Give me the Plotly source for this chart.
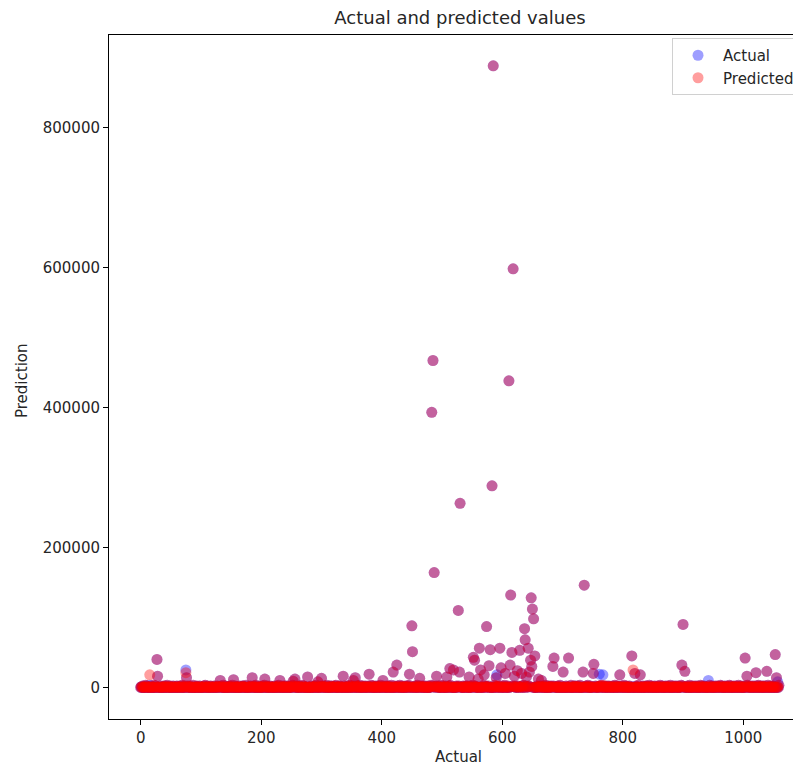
import plotly.graph_objects as go

# ---------------- data ----------------
title_text = "Actual and predicted values"
x_label = "Actual"
y_label = "Prediction"
x_tick_values = [0, 200, 400, 600, 800, 1000]
y_tick_values = [0, 200000, 400000, 600000, 800000]

# base level of every test sample, in thousands (one digit per sample index)
baseline_groups = """
0102001030 2010010200 0130020010 1002001020 0201300102 0010201001
2001020103 0100201020 1020010300 0102010020 1001020301 0200102010
0120010201 1002010300 0201001020 1030100201 0010200102 2010030100
1020100201 0301002010 0102030010 2001020100 1020010203 0100201020
0201020010 1030200102 0010201030 2010010200 0102001020 1300102001
0201020103 0010200201 1020300102 0201001020 1002010302 0010201002
2010300102 0102010020 1003020100 2010201030 0102001020 1020103001
0201002010 3010200102 0102030100 2001020103 0100201020 1020010200
0130201001 2010200103 0201002010 1020300102 0010201020 3010020102
1020010201 0301020010 2010201003 0102010200 1002010301 0201020010
2010300102 0102010201 0201002010 0102030102 0010201020 1030100201
0102001020 1030010201 0201020100 1020103001 0201002010 2010300102
0201020103 0010200102 1030102001 0201020100 1020301002 0102010201
1002010302 0102001020 1030102010 0201020100 1020103002 0102001020
2010301020 0102010020 1030102001 0201020103 0010201020 1020010302
0102010201 0300102010 2010200103 0201020100 1020301020 0102010201
1030201002 0102010302 0010201020 1030102010 0201020301 0201020102
0102030102 0102010201 0301020102 0102010203
"""

# samples that stand out from the band: index, actual value, predicted value
spike_index = [15, 27, 28, 75, 76, 132, 154, 185, 206, 231, 253, 256, 277, 294, 300,
               336, 353, 356, 379, 402, 419, 425, 446, 450, 451, 463, 483, 485, 487,
               491, 508, 513, 519, 527, 529, 530, 545, 552, 554, 560, 562, 564, 570,
               574, 578, 580, 583, 585, 590, 591, 596, 598, 605, 611, 613, 614, 616,
               618, 620, 625, 629, 632, 637, 638, 640, 643, 645, 647, 648, 649, 650,
               652, 654, 660, 665, 684, 686, 701, 710, 734, 736, 751, 752, 761, 767,
               795, 815, 817, 820, 829, 898, 900, 903, 942, 1003, 1006, 1021, 1039,
               1053, 1055, 1057]
spike_actual = [3000, 40000, 16000, 25000, 14000, 10000, 11000, 14000, 12000, 10000, 9000,
                12000, 15000, 8000, 13000, 16000, 10000, 14000, 19000, 10000, 22000, 32000,
                19000, 88000, 51000, 13000, 393000, 467000, 164000, 16000, 15000, 27000,
                25000, 110000, 22000, 263000, 15000, 43000, 39000, 12000, 56000, 25000,
                18000, 87000, 31000, 54000, 288000, 888000, 14000, 18000, 56000, 28000,
                20000, 438000, 32000, 132000, 50000, 598000, 16000, 24000, 53000, 20000,
                84000, 68000, 15000, 56000, 22000, 39000, 128000, 30000, 112000, 98000,
                45000, 12000, 10000, 30000, 42000, 22000, 42000, 22000, 146000, 20000,
                33000, 19000, 18000, 18000, 45000, 1000, 20000, 18000, 32000, 90000, 23000,
                10000, 42000, 16000, 21000, 23000, 47000, 14000, 8000]
spike_predicted = [18000, 40000, 16000, 21000, 14000, 10000, 11000, 14000, 12000, 10000, 9000,
                   12000, 15000, 8000, 13000, 16000, 10000, 14000, 19000, 10000, 22000, 32000,
                   19000, 88000, 51000, 13000, 393000, 467000, 164000, 16000, 15000, 27000,
                   25000, 110000, 22000, 263000, 15000, 43000, 39000, 12000, 56000, 25000,
                   18000, 87000, 31000, 54000, 288000, 888000, 14000, 2000, 56000, 28000,
                   20000, 438000, 32000, 132000, 50000, 598000, 16000, 24000, 53000, 20000,
                   84000, 68000, 15000, 56000, 22000, 39000, 128000, 30000, 112000, 98000,
                   45000, 12000, 10000, 30000, 42000, 22000, 42000, 22000, 146000, 20000,
                   33000, 2000, 3000, 18000, 45000, 25000, 20000, 18000, 32000, 90000, 23000,
                   1000, 42000, 16000, 21000, 23000, 47000, 14000, 1000]

# ---------------- build series ----------------
baseline = "".join(baseline_groups.split())
sample_index = list(range(len(baseline)))
actual = [int(c) * 1000 for c in baseline]
predicted = list(actual)
for i, a, p in zip(spike_index, spike_actual, spike_predicted):
    if i < len(actual):
        actual[i] = a
        predicted[i] = p

FONT = "DejaVu Sans"
TXT = "#262626"
fig = go.Figure()
fig.add_trace(go.Scatter(
    x=sample_index, y=actual, mode="markers", name="Actual", legendgroup="a",
    marker=dict(color="rgba(0,0,255,0.38)", size=11, line=dict(width=0)),
))
fig.add_trace(go.Scatter(
    x=sample_index, y=predicted, mode="markers", name="Predicted", legendgroup="b",
    marker=dict(color="rgba(255,0,0,0.38)", size=11, line=dict(width=0)),
))

axis_common = dict(
    showgrid=False, zeroline=False, showline=True, linecolor="black", linewidth=1,
    ticks="outside", ticklen=5, tickwidth=1, tickcolor="black",
    tickfont=dict(family=FONT, size=15, color=TXT),
)
fig.update_xaxes(range=[-52.6, 1109.0], tickvals=x_tick_values,
                 ticktext=[str(v) for v in x_tick_values], mirror=True, **axis_common)
fig.update_yaxes(range=[-45100, 932000], tickvals=y_tick_values,
                 ticktext=[str(v) for v in y_tick_values], **axis_common)

fig.update_layout(
    width=801, height=769,
    margin=dict(l=101, r=0, t=27, b=58),
    paper_bgcolor="white", plot_bgcolor="white",
    font=dict(family=FONT, size=15, color=TXT),
    title=dict(text=title_text, x=0.5014, xref="paper", xanchor="center",
               y=1 - 10 / 769, yref="container", yanchor="middle",
               font=dict(family=FONT, size=18, color=TXT)),
    showlegend=True,
    legend=dict(x=0.8043, y=0.9956, xanchor="left", yanchor="top",
                traceorder="grouped", tracegroupgap=0, itemwidth=40,
                bgcolor="rgba(255,255,255,0.8)", bordercolor="#d0d0d0", borderwidth=1,
                font=dict(family=FONT, size=15, color=TXT)),
    annotations=[
        dict(text=x_label, xref="paper", yref="paper", x=0.4986, y=-0.0556,
             xanchor="center", yanchor="middle", showarrow=False,
             font=dict(family=FONT, size=15, color=TXT)),
        dict(text=y_label, xref="paper", yref="paper", x=-0.1243, y=0.4956,
             xanchor="center", yanchor="middle", textangle=-90, showarrow=False,
             font=dict(family=FONT, size=15, color=TXT)),
    ],
)

fig.write_html("out.html")
